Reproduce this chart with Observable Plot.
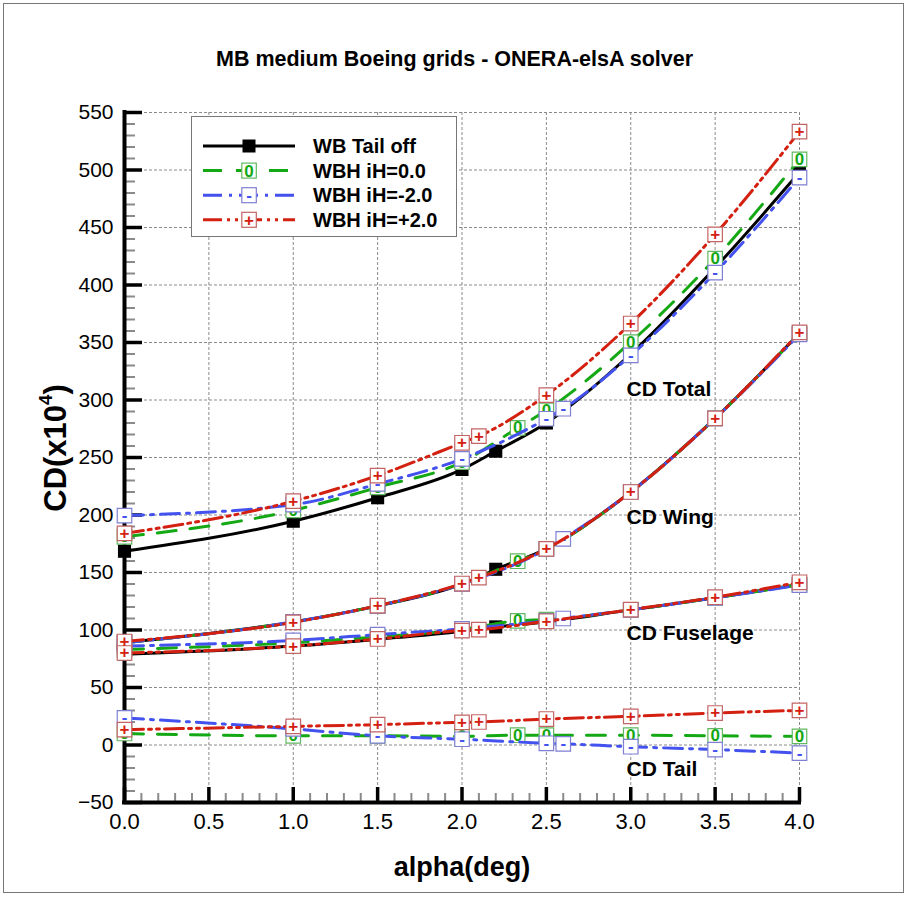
<!DOCTYPE html>
<html>
<head>
<meta charset="utf-8">
<script src="https://cdn.jsdelivr.net/npm/d3@7"></script>
<script src="https://cdn.jsdelivr.net/npm/@observablehq/plot@0.6"></script>
<style>
  body { margin: 0; background: #fff; font-family: "Liberation Sans", Arial, Helvetica, sans-serif; }
  #page { position: relative; width: 909px; height: 900px; overflow: hidden; background: #fff; }
  #border { position: absolute; left: 3px; top: 3px; width: 901px; height: 890px; border: 1px solid #777; box-sizing: border-box; pointer-events: none; }
  #chart { position: absolute; left: 0; top: 0; }
  #title { position: absolute; left: 0; width: 909px; top: 47px; text-align: center; font-weight: bold; font-size: 21.5px; color: #000; }
  #ylabel { position: absolute; left: 56px; top: 448px; transform: translate(-50%, -50%) rotate(-90deg); white-space: nowrap; font-weight: bold; font-size: 31px; color: #000; }
  #ylabel sup { font-size: 60%; vertical-align: 0.75em; line-height: 0; }
  #xlabel { position: absolute; left: 462px; top: 867px; transform: translate(-50%, -50%); white-space: nowrap; font-weight: bold; font-size: 27px; color: #000; }
  #legend { position: absolute; left: 191px; top: 116px; }
</style>
</head>
<body>
<div id="page">
  <div id="chart"></div>
  <div id="title">MB medium Boeing grids - ONERA-elsA solver</div>
  <div id="ylabel">CD(x10<sup>4</sup>)</div>
  <div id="xlabel">alpha(deg)</div>
  <div id="legend"></div>
  <div id="border"></div>
</div>
<script>
// Axis domains and tick labels
const xDomain = [0, 4];
const yDomain = [-50, 550];
const xTicks = [0, 0.5, 1, 1.5, 2, 2.5, 3, 3.5, 4];
const yTicks = [-50, 0, 50, 100, 150, 200, 250, 300, 350, 400, 450, 500, 550];

// Angle of attack (deg) for each configuration
const alphaTailOff = [0, 1, 1.5, 2, 2.2, 2.5, 3, 3.5, 4];
const alphaIH0     = [0, 1, 1.5, 2, 2.33, 2.5, 3, 3.5, 4];
const alphaIHm2    = [0, 1, 1.5, 2, 2.5, 2.6, 3, 3.5, 4];
const alphaIHp2    = [0, 1, 1.5, 2, 2.1, 2.5, 3, 3.5, 4];

// Drag coefficients, CD x 10^4
const totalTailOff    = [168.5, 194.6, 215, 239.6, 255.5, 280, 340, 415, 498];
const wingTailOff     = [89, 107, 121, 140, 152.8, 170.5, 220, 284, 358];
const fuselageTailOff = [79, 86, 92, 99, 102.7, 107, 117.5, 128, 139.5];

const totalIH0    = [181, 204, 224, 246, 275.8, 291, 350.3, 422.9, 509.3];
const wingIH0     = [89, 107, 121, 140, 159.8, 170.5, 220, 284, 358];
const fuselageIH0 = [83, 89, 94, 100.5, 108, 109, 117.5, 128, 139.5];
const tailIH0     = [10, 8, 8, 7.5, 8.5, 8.5, 8.5, 8, 7.5];

const totalIHm2    = [199.5, 209, 227, 248.8, 283.7, 292.4, 338.8, 410.7, 493.4];
const wingIHm2     = [89, 107, 121, 140, 170.5, 179.3, 220, 284, 357];
const fuselageIHm2 = [86, 91, 96, 101, 108, 110, 117.5, 128, 139];
const tailIHm2     = [23.5, 14, 8, 5, 1.5, 1, -1.5, -4, -7];

const totalIHp2    = [184, 212, 234.3, 262.8, 268.6, 304.2, 366.5, 444, 533.4];
const wingIHp2     = [90, 106.7, 121.2, 140.4, 145.6, 170.5, 220, 284, 358.8];
const fuselageIHp2 = [80, 86, 92.2, 99.5, 100.3, 107.6, 117.7, 128.5, 141.5];
const tailIHp2     = [13.3, 16.2, 17.7, 19.7, 20, 22.6, 24.9, 27.8, 30.1];

// Curve annotations (data units)
const annotations = [
  {label: "CD Total",    alpha: 2.975, cd: 309},
  {label: "CD Wing",     alpha: 2.975, cd: 198},
  {label: "CD Fuselage", alpha: 2.975, cd: 97},
  {label: "CD Tail",     alpha: 2.975, cd: -21}
];

const series = [
  {name: "WB Tail off", alpha: alphaTailOff, color: "#000000", dash: null, box: null, glyph: null,
   components: {Total: totalTailOff, Wing: wingTailOff, Fuselage: fuselageTailOff}},
  {name: "WBH iH=0.0", alpha: alphaIH0, color: "#14a814", dash: "19,14", box: "#62b862", glyph: "0",
   components: {Total: totalIH0, Wing: wingIH0, Fuselage: fuselageIH0, Tail: tailIH0}},
  {name: "WBH iH=-2.0", alpha: alphaIHm2, color: "#4352ee", dash: "19,7,3,7", box: "#7f7fd4", glyph: "-",
   components: {Total: totalIHm2, Wing: wingIHm2, Fuselage: fuselageIHm2, Tail: tailIHm2}},
  {name: "WBH iH=+2.0", alpha: alphaIHp2, color: "#d42010", dash: "19,5,3,5,3,5", box: "#c46464", glyph: "+",
   components: {Total: totalIHp2, Wing: wingIHp2, Fuselage: fuselageIHp2, Tail: tailIHp2}}
];

function rowsOf(s) {
  const rows = [];
  for (const [component, values] of Object.entries(s.components)) {
    values.forEach((cd, i) => rows.push({series: s.name, component, alpha: s.alpha[i], cd}));
  }
  return rows;
}

const seriesMarks = series.flatMap(s => {
  const rows = rowsOf(s);
  const marks = [
    Plot.line(rows, {x: "alpha", y: "cd", z: "component", stroke: s.color, strokeWidth: 3,
      strokeDasharray: s.dash, curve: "monotone-x"})
  ];
  if (s.glyph == null) {
    marks.push(Plot.dot(rows, {x: "alpha", y: "cd", symbol: "square", r: 7.4, fill: s.color}));
  } else {
    marks.push(Plot.dot(rows, {x: "alpha", y: "cd", symbol: "square", r: 8.2, fill: "white",
      stroke: s.box, strokeWidth: 1.2}));
    marks.push(Plot.text(rows, {x: "alpha", y: "cd", text: () => s.glyph, fill: s.color,
      fontWeight: "bold", fontSize: 17}));
  }
  return marks;
});

const gridStyle = {stroke: "#8a8a8a", strokeOpacity: 1, strokeWidth: 1, strokeDasharray: "3,2"};

const chart = Plot.plot({
  width: 909,
  height: 900,
  marginLeft: 124,
  marginRight: 110,
  marginTop: 112,
  marginBottom: 98,
  x: {domain: xDomain},
  y: {domain: yDomain},
  style: {fontFamily: "'Liberation Sans', Arial, Helvetica, sans-serif", fontSize: "21px", color: "#000", background: "transparent", overflow: "visible"},
  marks: [
    Plot.gridX(xTicks, gridStyle),
    Plot.gridY(yTicks, gridStyle),
    // minor ticks
    Plot.axisX(d3.range(0, 40.5, 1).map(d => d / 10), {tickSize: -9, stroke: "#8a8a8a", strokeWidth: 2, fill: "none"}),
    Plot.axisY(d3.range(-50, 551, 10), {tickSize: -11, stroke: "#8a8a8a", strokeWidth: 2, fill: "none"}),
    // major ticks
    Plot.axisX(xTicks, {tickSize: -15, stroke: "#000", strokeWidth: 3.5, fill: "none"}),
    Plot.axisY(yTicks, {tickSize: -18, stroke: "#000", strokeWidth: 3.5, fill: "none"}),
    // tick labels
    Plot.axisX(xTicks, {tickSize: 0, tickPadding: 11, fontSize: 22, label: null, tickFormat: d3.format(".1f"), fill: "#000"}),
    Plot.axisY(yTicks, {tickSize: 0, tickPadding: 11, fontSize: 21, label: null, fill: "#000"}),
    // axis lines
    Plot.ruleX([xDomain[0]], {stroke: "#000", strokeWidth: 4, strokeLinecap: "square"}),
    Plot.ruleY([yDomain[0]], {stroke: "#000", strokeWidth: 4, strokeLinecap: "square"}),
    ...seriesMarks,
    Plot.text(annotations, {x: "alpha", y: "cd", text: "label", textAnchor: "start", fontWeight: "bold", fontSize: 21, fill: "#000"})
  ]
});
document.getElementById("chart").append(chart);

// Legend
const lw = 266, lh = 121;
const legend = d3.select("#legend").append("svg").attr("width", lw).attr("height", lh);
legend.append("rect").attr("x", 0.5).attr("y", 0.5).attr("width", lw - 1).attr("height", lh - 1)
  .attr("fill", "white").attr("stroke", "#777").attr("stroke-width", 1);
series.forEach((s, i) => {
  const g = legend.append("g").attr("transform", `translate(0, ${30 + i * 24.6})`);
  g.append("line").attr("x1", 12).attr("x2", 104).attr("y1", 0).attr("y2", 0)
    .attr("stroke", s.color).attr("stroke-width", 3).attr("stroke-dasharray", s.dash);
  if (s.glyph == null) {
    g.append("rect").attr("x", 51.5).attr("y", -6.5).attr("width", 13).attr("height", 13).attr("fill", s.color);
  } else {
    g.append("rect").attr("x", 50.8).attr("y", -7.5).attr("width", 14.5).attr("height", 15)
      .attr("fill", "white").attr("stroke", s.box).attr("stroke-width", 1.2);
    g.append("text").attr("x", 58).attr("y", 0).attr("dy", "0.35em").attr("text-anchor", "middle")
      .attr("fill", s.color).attr("font-weight", "bold").attr("font-size", 17)
      .attr("font-family", "'Liberation Sans', Arial, sans-serif").text(s.glyph);
  }
  g.append("text").attr("x", 122).attr("y", 0).attr("dy", "0.36em")
    .attr("font-weight", "bold").attr("font-size", 20)
    .attr("font-family", "'Liberation Sans', Arial, sans-serif").attr("fill", "#000").text(s.name);
});
</script>
</body>
</html>
